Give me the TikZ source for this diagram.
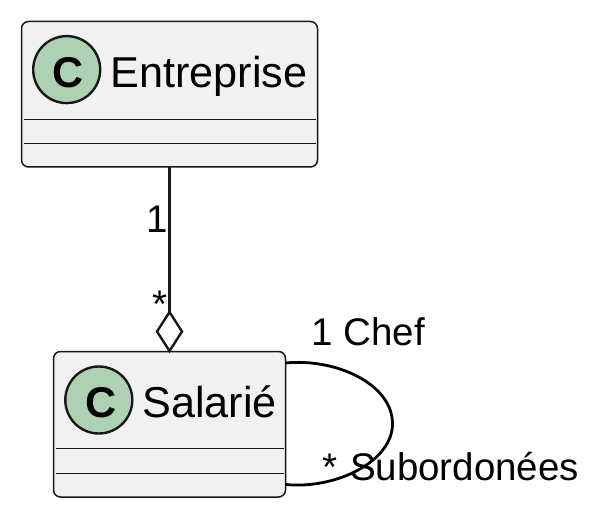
\documentclass[tikz,border=0pt]{standalone}
\usepackage{fontspec}
\setmainfont{Liberation Sans}
\usetikzlibrary{shapes.geometric,calc}
\definecolor{boxfill}{HTML}{F1F1F1}
\definecolor{stroke}{HTML}{181818}
\definecolor{spot}{HTML}{ADD1B2}
\tikzset{
  classbox/.style={draw=stroke,fill=boxfill,line width=1.5pt,rounded corners=7pt,inner sep=0pt,outer sep=0pt,minimum height=145.5pt},
  spotc/.style={circle,draw=stroke,fill=spot,line width=2.4pt,minimum size=67pt,inner sep=0pt,outer sep=0pt},
  spotletter/.style={inner sep=0pt,outer sep=0pt,font=\fontsize{43}{43}\selectfont\bfseries,text=black},
  classname/.style={anchor=base west,inner sep=0pt,outer sep=0pt,font=\fontsize{43.2}{46}\selectfont,text=black},
  lbl/.style={anchor=base west,inner sep=0pt,outer sep=0pt,font=\fontsize{38.5}{42}\selectfont,text=black},
  sepline/.style={draw=stroke,line width=1.5pt},
  link/.style={draw=stroke,line width=3pt},
  aggr/.style={diamond,draw=stroke,fill=white,line width=2.4pt,aspect=0.64,minimum width=25pt,minimum height=39pt,inner sep=0pt,outer sep=0pt},
}
\begin{document}
\begin{tikzpicture}[x=1pt,y=-1pt]
\useasboundingbox (0,0) rectangle (600,516);
% classes
\node[classbox,minimum width=296pt] (ent) at (169.5,94.25) {};
\node[classbox,minimum width=232pt] (sal) at (169.5,424.25) {};
\draw[sepline] ($(ent.north west)+(2,97.9)$) -- ($(ent.north east)+(-2,97.9)$);
\draw[sepline] ($(ent.north west)+(2,122)$) -- ($(ent.north east)+(-2,122)$);
\draw[sepline] ($(sal.north west)+(2,97)$) -- ($(sal.north east)+(-2,97)$);
\draw[sepline] ($(sal.north west)+(2,122)$) -- ($(sal.north east)+(-2,122)$);
\node[spotc] (entspot) at (66.7,69.6) {};
\node[spotc] (salspot) at (98.8,400) {};
\node[spotletter] (entc) at (68,72.3) {C};
\node[spotletter] (salc) at (100.8,402.8) {C};
\node[classname] (entname) at (110.5,87.7) {Entreprise};
\node[classname] (salname) at (142.5,417.7) {Salarié};
% aggregation
\node[aggr] (dia) at (169.5,331.5) {};
\draw[link] (ent.south) -- (dia.north);
\node[lbl] (one) at (146,232.5) {1};
\node[lbl] (many) at (152.5,317) {*};
% self loop
\coordinate (loopa) at ($(sal.north east)+(0,11.5)$);
\coordinate (loopb) at ($(sal.south east)+(0,-12.5)$);
\coordinate (loopc) at ($(sal.east)+(107,-0.5)$);
\draw[stroke,line width=2.8pt]
  (loopa) .. controls ($(loopa)+(50,-5)$) and ($(loopc)+(0,-40)$) .. (loopc)
  .. controls ($(loopc)+(0,38)$) and ($(loopb)+(50,5)$) .. (loopb);
\node[lbl] (chefnum) at (311.5,345) {1 Chef};
\node[lbl] (subnum) at (322.5,480) {*};
\node[lbl] (sub) at (350,480) {Subordonées};
\end{tikzpicture}
\end{document}
